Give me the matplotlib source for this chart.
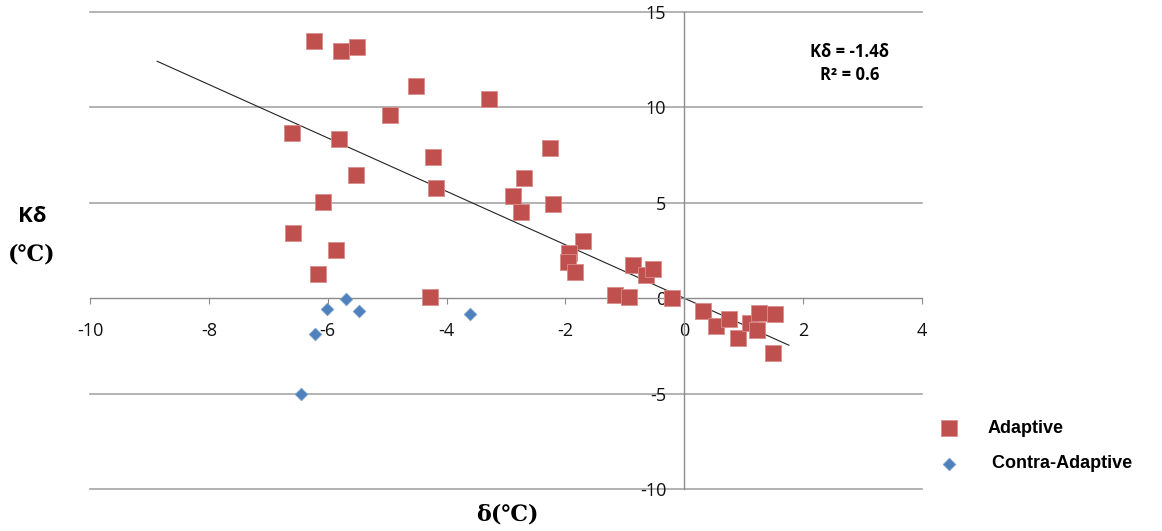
import matplotlib
matplotlib.use("Agg")
import matplotlib.pyplot as plt
import numpy as np

plt.rcParams["axes.unicode_minus"] = False

# Data
adaptive_x = [-6.23, -5.78, -5.51, -4.52, -3.29, -4.96, -6.60, -5.81, -4.23, -2.26,
              -5.53, -4.18, -2.70, -2.88, -2.75, -2.21, -6.08, -6.58, -1.71, -1.94,
              -1.96, -1.84, -5.86, -6.16, -4.28, -1.16, -0.93, -0.86, -0.65, -0.53,
              -0.21, 0.31, 0.53, 0.76, 0.91, 1.11, 1.22, 1.26, 1.53, 1.50]
adaptive_y = [13.48, 12.96, 13.17, 11.12, 10.42, 9.62, 8.66, 8.37, 7.38, 7.85,
              6.46, 5.80, 6.32, 5.35, 4.52, 4.94, 5.02, 3.40, 2.98, 2.37,
              1.90, 1.39, 2.53, 1.25, 0.06, 0.17, 0.05, 1.74, 1.22, 1.55,
              0.00, -0.65, -1.46, -1.09, -2.09, -1.31, -1.66, -0.76, -0.83, -2.89]

contra_x = [-6.01, -5.69, -5.47, -6.21, -3.61, -6.45]
contra_y = [-0.58, -0.03, -0.69, -1.88, -0.84, -5.02]

trend_slope = -1.4
trend_x = [-8.87, 1.76]

x_ticks = [-10, -8, -6, -4, -2, 0, 2, 4]
y_ticks = [-10, -5, 0, 5, 10, 15]

fig = plt.figure(figsize=(11.62, 5.31), dpi=100)
ax = fig.add_axes([90/1162, 1-489/531, (922-90)/1162, (489-12)/531])

ax.set_xlim(-10, 4)
ax.set_ylim(-10, 15)
ax.set_xticks(x_ticks)
ax.set_yticks(y_ticks)

for yv in y_ticks:
    if yv != 0:
        ax.axhline(yv, color="#A6A6A6", lw=1.2, zorder=0, clip_on=False)

for s in ["top", "right"]:
    ax.spines[s].set_visible(False)
ax.spines["left"].set_position(("data", 0))
ax.spines["bottom"].set_position(("data", 0))
ax.spines["left"].set_color("#8C8C8C")
ax.spines["bottom"].set_color("#8C8C8C")
ax.spines["left"].set_linewidth(1.0)
ax.spines["bottom"].set_linewidth(1.0)

ax.tick_params(axis="x", direction="out", length=4, color="#8C8C8C", labelsize=13,
               pad=13, labelcolor="#111111")
ax.tick_params(axis="y", length=0, labelsize=13, pad=13, labelcolor="#111111")
for lab in ax.get_xticklabels() + ax.get_yticklabels():
    lab.set_family(["Open Sans", "DejaVu Sans"])

tx = np.array(trend_x)
ax.plot(tx, trend_slope * tx, color="#222222", lw=0.8, zorder=2)

ax.scatter(adaptive_x, adaptive_y, marker="s", s=120, color="#C0504D",
           edgecolors="#D98C8A", linewidths=0.6, zorder=3, label="Adaptive")
ax.scatter(contra_x, contra_y, marker="D", s=42, color="#4F81BD",
           edgecolors="#7FA2D0", linewidths=0.5, zorder=3, label=" Contra-Adaptive")

# Equation
fig.text(850/1162, 1-52/531, "K\u03b4 = -1.4\u03b4", ha="center", va="center",
         fontsize=12, fontweight="bold", family=["Open Sans", "DejaVu Sans"])
fig.text(850/1162, 1-75/531, "R\u00b2 = 0.6", ha="center", va="center",
         fontsize=12, fontweight="bold", family=["Open Sans", "DejaVu Sans"])

# Axis labels
fig.text(32/1162, 1-216/531, "K\u03b4", ha="center", va="center",
         fontsize=16, fontweight="bold", family=["Open Sans", "DejaVu Sans"])
fig.text(32/1162, 1-254/531, "(\u2103)", ha="center", va="center",
         fontsize=16, fontweight="bold", family=["DejaVu Serif", "DejaVu Sans"])
fig.text(507/1162, 1-514/531, "\u03b4(\u2103)", ha="center", va="center",
         fontsize=16, fontweight="bold", family=["DejaVu Serif", "DejaVu Sans"])

# Legend
leg = fig.legend(loc="upper left", bbox_to_anchor=(924/1162, 1-413/531), frameon=False,
                 handletextpad=1.1, labelspacing=1.0, borderaxespad=0,
                 prop={"weight": "bold", "family": ["Liberation Sans", "DejaVu Sans"], "size": 13})

fig.savefig("out.png", dpi=100)
